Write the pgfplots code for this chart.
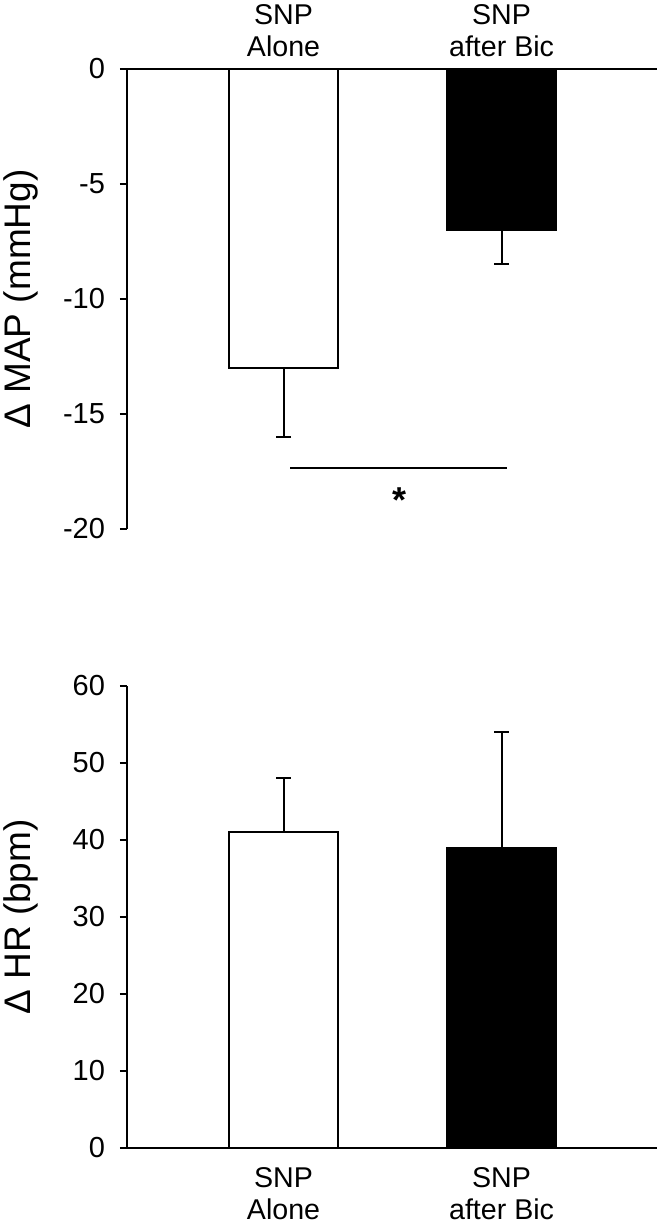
\documentclass[border=0pt]{standalone}
\usepackage{pgfplots}
\pgfplotsset{compat=1.18}
\usepackage{fontspec}
\setmainfont{Liberation Sans}

\begin{document}
\begin{tikzpicture}
\path[use as bounding box] (0,0) rectangle (330.5pt,614pt);
\pgfplotsset{
  panel/.style={
    scale only axis, width=265pt,
    xmin=-0.718, xmax=1.713,
    axis y line*=left,
    tick align=outside,
    major tick length=3.5pt,
    axis line style={line width=1.3pt},
    ytick style={line width=1.1pt, black},
    xtick={0,1}, xtick style={draw=none},
    yticklabel style={font=\fontsize{14.5}{17}\selectfont, xshift=-4pt},
    xticklabel style={align=center, inner sep=0pt,
      font=\fontsize{14.3}{16}\selectfont},
    every axis y label/.style={at={(axis description cs:0,0.5)}, xshift=-53pt,
      rotate=90, anchor=center, font=\fontsize{18.5}{22}\selectfont},
    clip=false,
  },
  bars/.style={ybar, bar width=0.5, bar shift=0, draw=black, line width=1pt,
    /pgfplots/error bars/y explicit, /pgfplots/error bars/y dir=#1,
    /pgfplots/error bars/error bar style={line width=1pt, black},
    /pgfplots/error bars/error mark options={rotate=90, mark size=3.75pt, line width=1pt, black}},
}
% top panel: change in MAP
\begin{axis}[panel, at={(63.5pt,349.5pt)}, anchor=south west, height=230pt,
  axis x line*=top, ymin=-20, ymax=0,
  ytick={-20,-15,-10,-5,0}, yticklabels={-20,-15,-10,-5,0},
  xticklabels={{SNP\\Alone},{SNP\\after Bic}},
  xticklabel style={anchor=south, yshift=2.5pt},
  ylabel={Δ MAP (mmHg)}]
  \addplot[fill=white, bars=minus] coordinates {(0,-13) +- (0,3)};
  \addplot[fill=black, bars=minus] coordinates {(1,-7) +- (0,1.5)};
  \addplot[black, line width=0.9pt] coordinates {(0.03,-17.36) (1.025,-17.36)};
  \node[anchor=base, font=\bfseries\fontsize{18}{20}\selectfont] at (axis cs:0.53,-19.3) {*};
\end{axis}
% bottom panel: change in HR
\begin{axis}[panel, at={(63.5pt,40pt)}, anchor=south west, height=231pt,
  axis x line*=bottom, ymin=0, ymax=60,
  ytick={0,10,20,30,40,50,60}, yticklabels={0,10,20,30,40,50,60},
  xticklabels={{SNP\\Alone},{SNP\\after Bic}},
  xticklabel style={anchor=north, yshift=-6pt},
  ylabel={Δ HR (bpm)}]
  \addplot[fill=white, bars=plus] coordinates {(0,41) +- (0,7)};
  \addplot[fill=black, bars=plus] coordinates {(1,39) +- (0,15)};
\end{axis}
\end{tikzpicture}
\end{document}
